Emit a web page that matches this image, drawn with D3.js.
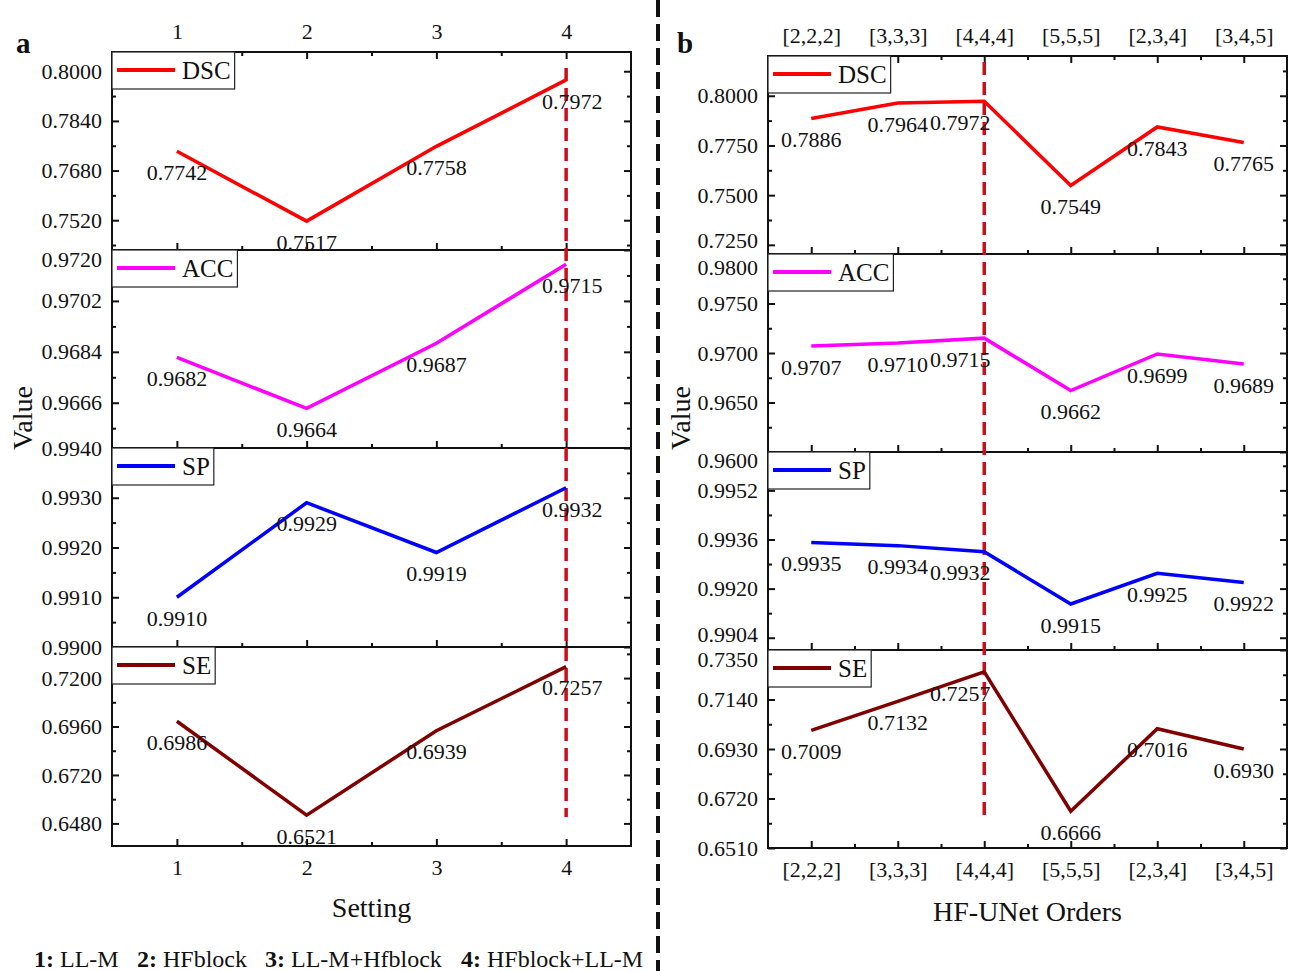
<!DOCTYPE html>
<html>
<head>
<meta charset="utf-8">
<script src="https://d3js.org/d3.v7.min.js"></script>
<style>
  body { margin: 0; background: #fff; }
  svg text { font-family: "Liberation Serif", "Times New Roman", serif; fill: #111; }
</style>
</head>
<body>
<svg id="vis"></svg>
<script>
  // ---- data ----
  var settings = [1, 2, 3, 4]
  var orderLabels = ['[2,2,2]', '[3,3,3]', '[4,4,4]', '[5,5,5]', '[2,3,4]', '[3,4,5]']
  var orderIdx = [1, 2, 3, 4, 5, 6]

  var setDSC = [0.7742, 0.7517, 0.7758, 0.7972]
  var setACC = [0.9682, 0.9664, 0.9687, 0.9715]
  var setSP  = [0.9910, 0.9929, 0.9919, 0.9932]
  var setSE  = [0.6986, 0.6521, 0.6939, 0.7257]

  var ordDSC = [0.7886, 0.7964, 0.7972, 0.7549, 0.7843, 0.7765]
  var ordACC = [0.9707, 0.9710, 0.9715, 0.9662, 0.9699, 0.9689]
  var ordSP  = [0.9935, 0.9934, 0.9932, 0.9915, 0.9925, 0.9922]
  var ordSE  = [0.7009, 0.7132, 0.7257, 0.6666, 0.7016, 0.6930]

  var metricNames = ['DSC', 'ACC', 'SP', 'SE']
  var metricColors = ['#ff0000', '#ff00ff', '#0000ff', '#800000']

  // y ticks per panel (left figure)
  var setMajor = [
    [0.7520, 0.7680, 0.7840, 0.8000],
    [0.9666, 0.9684, 0.9702, 0.9720],
    [0.9900, 0.9910, 0.9920, 0.9930, 0.9940],
    [0.6480, 0.6720, 0.6960, 0.7200]
  ]
  var setMinor = [
    [0.744, 0.760, 0.776, 0.792],
    [0.9657, 0.9675, 0.9693, 0.9711],
    [0.9905, 0.9915, 0.9925, 0.9935],
    [0.660, 0.684, 0.708, 0.732]
  ]
  var setDomains = [[0.7424, 0.8062], [0.9650, 0.9720], [0.9900, 0.9940], [0.6368, 0.7354]]

  // y ticks per panel (right figure)
  var ordMajor = [
    [0.7250, 0.7500, 0.7750, 0.8000],
    [0.9600, 0.9650, 0.9700, 0.9750, 0.9800],
    [0.9904, 0.9920, 0.9936, 0.9952],
    [0.6510, 0.6720, 0.6930, 0.7140, 0.7350]
  ]
  var ordMinor = [
    [0.7375, 0.7625, 0.7875, 0.8125],
    [0.9625, 0.9675, 0.9725, 0.9775],
    [0.9912, 0.9928, 0.9944, 0.9960],
    [0.6615, 0.6825, 0.7035, 0.7245]
  ]
  var ordDomains = [[0.7204, 0.8200], [0.9600, 0.9800], [0.9900, 0.99645], [0.6510, 0.7350]]

  var captionItems = [['1:', ' LL-M'], ['2:', ' HFblock'], ['3:', ' LL-M+Hfblock'], ['4:', ' HFblock+LL-M']]

  // ---- layout ----
  var W = 1296, H = 971
  var svg = d3.select('#vis').attr('width', W).attr('height', H)
  svg.append('rect').attr('width', W).attr('height', H).attr('fill', '#fff')

  function styleAxis(sel) {
    sel.select('.domain').remove()
    sel.selectAll('line').attr('stroke', '#111').attr('stroke-width', 2)
    sel.selectAll('text').attr('font-size', 22).attr('font-family', 'Liberation Serif').attr('fill', '#111')
  }

  function drawFigure(cfg) {
    var x = d3.scaleLinear().domain(cfg.xDomain).range([cfg.left, cfg.right])
    var g = svg.append('g')
    var nP = cfg.series.length

    for (var p = 0; p < nP; p++) {
      var top = cfg.tops[p], bot = cfg.tops[p + 1]
      var y = d3.scaleLinear().domain(cfg.domains[p]).range([bot, top])
      var pg = g.append('g')
      var nudge = cfg.nudge[p]

      // left axis with labels
      var la = pg.append('g').attr('transform', 'translate(' + cfg.left + ',0)')
        .call(d3.axisLeft(y).tickValues(cfg.major[p]).tickSize(-7).tickPadding(10)
          .tickFormat(d3.format('.4f')))
      styleAxis(la)
      la.selectAll('text').attr('y', function (d) { return nudge[d.toFixed(4)] || 0 })
      styleAxis(pg.append('g').attr('transform', 'translate(' + cfg.left + ',0)')
        .call(d3.axisLeft(y).tickValues(cfg.minor[p]).tickSize(-4).tickFormat('')))

      // right axis (mirror ticks)
      styleAxis(pg.append('g').attr('transform', 'translate(' + cfg.right + ',0)')
        .call(d3.axisRight(y).tickValues(cfg.major[p]).tickSize(-7).tickFormat('')))
      styleAxis(pg.append('g').attr('transform', 'translate(' + cfg.right + ',0)')
        .call(d3.axisRight(y).tickValues(cfg.minor[p]).tickSize(-4).tickFormat('')))

      // bottom x ticks (inward)
      var isLast = p === nP - 1
      styleAxis(pg.append('g').attr('transform', 'translate(0,' + bot + ')')
        .call(d3.axisBottom(x).tickValues(cfg.xTicks).tickSize(-7).tickPadding(13)
          .tickFormat(isLast ? cfg.xFormat : '')))
      styleAxis(pg.append('g').attr('transform', 'translate(0,' + bot + ')')
        .call(d3.axisBottom(x).tickValues(cfg.xMinor).tickSize(-4).tickFormat('')))

      if (p === 0) {
        styleAxis(pg.append('g').attr('transform', 'translate(0,' + top + ')')
          .call(d3.axisTop(x).tickValues(cfg.xTicks).tickSize(-7).tickPadding(13).tickFormat(cfg.xFormat)))
        styleAxis(pg.append('g').attr('transform', 'translate(0,' + top + ')')
          .call(d3.axisTop(x).tickValues(cfg.xMinor).tickSize(-4).tickFormat('')))
      }

      // frame
      pg.append('rect').attr('x', cfg.left).attr('y', top)
        .attr('width', cfg.right - cfg.left).attr('height', bot - top)
        .attr('fill', 'none').attr('stroke', '#111').attr('stroke-width', 2)

      cfg.yScales.push(y)
    }

    // highlight dashed line
    var hx = x(cfg.highlight)
    g.append('line').attr('x1', hx).attr('x2', hx)
      .attr('y1', cfg.tops[0] + cfg.dashTop).attr('y2', cfg.tops[nP] - cfg.dashBottom)
      .attr('stroke', '#c8101a').attr('stroke-width', 3.5).attr('stroke-dasharray', '13,7')

    for (var p = 0; p < nP; p++) {
      var y = cfg.yScales[p]
      var vals = cfg.series[p]
      var pts = cfg.xVals.map(function (xv, i) { return [x(xv), y(vals[i])] })
      g.append('path').attr('d', d3.line()(pts)).attr('fill', 'none')
        .attr('stroke', metricColors[p]).attr('stroke-width', 3.5)

      g.selectAll(null).data(vals).enter().append('text')
        .attr('x', function (d, i) { return pts[i][0] + (cfg.xVals[i] === cfg.highlight ? cfg.hlDx : 0) })
        .attr('y', function (d, i) { return pts[i][1] + 21 })
        .attr('dy', '0.35em').attr('text-anchor', 'middle').attr('font-size', 22)
        .text(function (d) { return d3.format('.4f')(d) })

      // legend box
      var top = cfg.tops[p]
      var lg = g.append('g').attr('transform', 'translate(' + cfg.left + ',' + top + ')')
      var lt = lg.append('text').attr('x', 70).attr('y', 27).attr('font-size', 25)
        .text(metricNames[p])
      var tw = lt.node().getComputedTextLength()
      lg.insert('rect', 'text').attr('x', 0).attr('y', 0).attr('width', 70 + tw + 4).attr('height', 37)
        .attr('fill', '#fff').attr('stroke', '#222').attr('stroke-width', 1.2)
      lg.append('line').attr('x1', 5).attr('x2', 63).attr('y1', 18).attr('y2', 18)
        .attr('stroke', metricColors[p]).attr('stroke-width', 4)
    }

    // axis titles
    svg.append('text').attr('transform', 'translate(' + cfg.valueX + ',' + 418 + ') rotate(-90)')
      .attr('text-anchor', 'middle').attr('dy', '0.35em').attr('font-size', 28).text('Value')
    svg.append('text').attr('x', (cfg.left + cfg.right) / 2).attr('y', cfg.titleY)
      .attr('text-anchor', 'middle').attr('font-size', 28).text(cfg.title)
    svg.append('text').attr('x', cfg.letterX).attr('y', 53).attr('font-size', 29)
      .attr('font-weight', 'bold').text(cfg.letter)
  }

  drawFigure({
    left: 112, right: 631, tops: [52, 250, 448, 647, 846],
    xDomain: [0.5, 4.5], xTicks: settings, xMinor: [1.5, 2.5, 3.5], xVals: settings,
    xFormat: d3.format('d'),
    series: [setDSC, setACC, setSP, setSE], domains: setDomains,
    major: setMajor, minor: setMinor, yScales: [],
    nudge: [{}, {'0.9720': 9}, {}, {}],
    highlight: 4, hlDx: 6, dashTop: 16, dashBottom: 29,
    valueX: 22, title: 'Setting', titleY: 917, letter: 'a', letterX: 16
  })

  drawFigure({
    left: 768, right: 1287, tops: [56, 254, 452, 650, 848],
    xDomain: [0.5, 6.5], xTicks: orderIdx, xMinor: [1.5, 2.5, 3.5, 4.5, 5.5], xVals: orderIdx,
    xFormat: function (d) { return orderLabels[d - 1] },
    series: [ordDSC, ordACC, ordSP, ordSE], domains: ordDomains,
    major: ordMajor, minor: ordMinor, yScales: [],
    nudge: [{'0.7250': -4}, {'0.9800': 13, '0.9600': 8}, {'0.9904': -3}, {'0.7350': 9}],
    highlight: 3, hlDx: -24, dashTop: 6, dashBottom: 26,
    valueX: 680, title: 'HF-UNet Orders', titleY: 921, letter: 'b', letterX: 677
  })

  // divider
  svg.append('line').attr('x1', 658).attr('x2', 658).attr('y1', 0).attr('y2', H)
    .attr('stroke', '#111').attr('stroke-width', 4).attr('stroke-dasharray', '17,7')

  // caption
  var capX = [34, 137, 265, 461]
  captionItems.forEach(function (c, i) {
    var t = svg.append('text').attr('x', capX[i]).attr('y', 967).attr('font-size', 24)
    t.append('tspan').attr('font-weight', 'bold').text(c[0])
    t.append('tspan').text(c[1])
  })
</script>
</body>
</html>
